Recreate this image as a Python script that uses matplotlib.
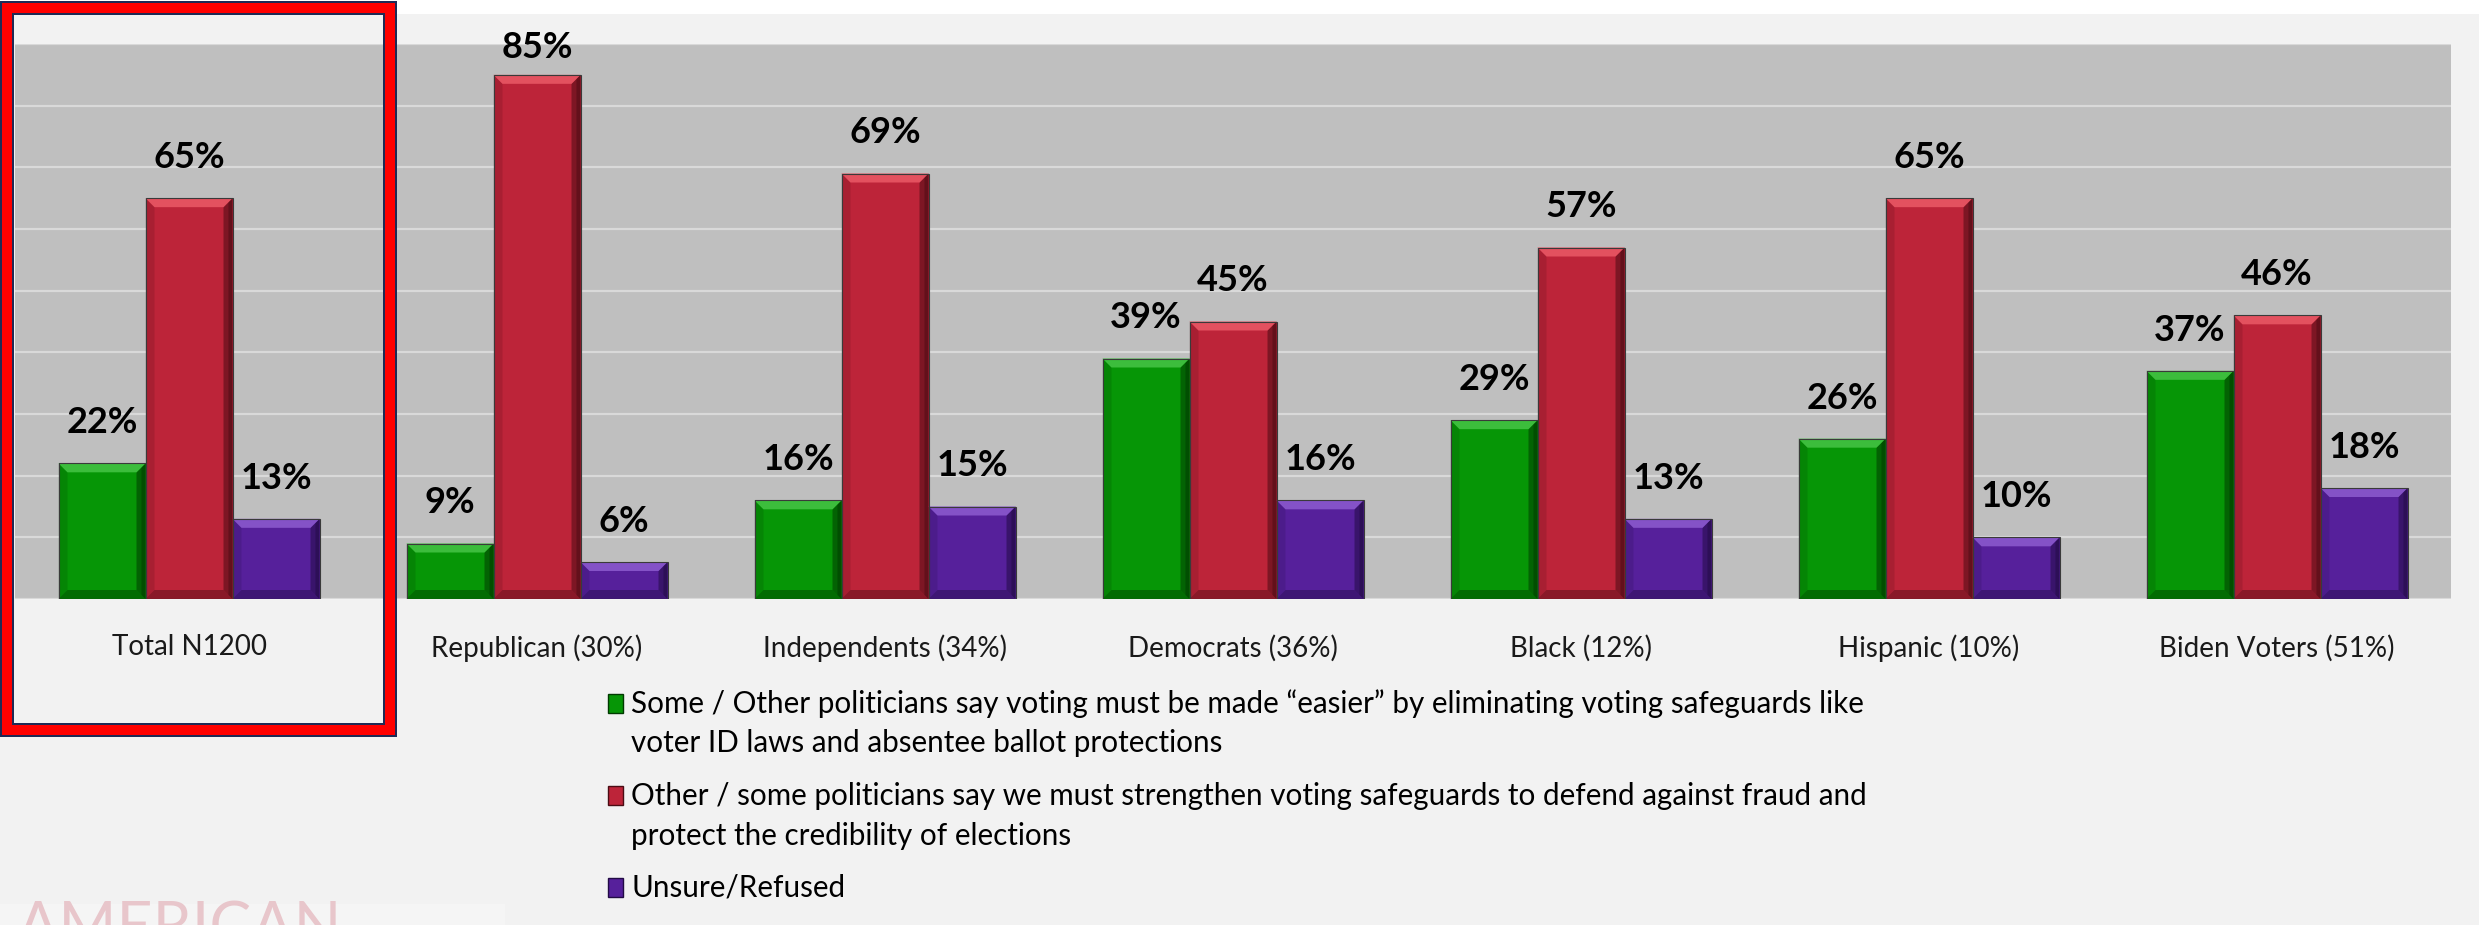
import matplotlib
matplotlib.use("Agg")
import matplotlib.pyplot as plt
from matplotlib.patches import Rectangle, Polygon
import numpy as np

# ---------------- data ----------------
categories = ["Total N1200", "Republican (30%)", "Independents (34%)", "Democrats (36%)",
              "Black (12%)", "Hispanic (10%)", "Biden Voters (51%)"]
easier = [22, 9, 16, 39, 29, 26, 37]
strengthen = [65, 85, 69, 45, 57, 65, 46]
unsure = [13, 6, 15, 16, 13, 10, 18]
legend_lines = [
    ["Some / Other politicians say voting must be made \u201ceasier\u201d by eliminating voting safeguards like",
     "voter ID laws and absentee ballot protections"],
    ["Other / some politicians say we must strengthen voting safeguards to defend against fraud and",
     "protect the credibility of elections"],
    ["Unsure/Refused"],
]

# ---------------- style ----------------
W, H = 2479, 925
DPI = 100
FONT = "Lato"
base_cols = ["#069606", "#bd2439", "#56209b"]
light_cols = ["#3cbd3c", "#e3515f", "#8452c7"]
dark_cols = ["#013a01", "#4a0c14", "#220b45"]

fig = plt.figure(figsize=(W / DPI, H / DPI), dpi=DPI)
fig.patch.set_facecolor("#f2f2f2")

def px(x, y):
    """pixel (from top-left) -> figure fraction"""
    return x / W, 1 - y / H

# white strip at top
fig.patches.append(Rectangle((0, 1 - 14 / H), 1, 14 / H, transform=fig.transFigure,
                             facecolor="white", edgecolor="none", zorder=0))
# watermark box bottom-left
fig.patches.append(Rectangle(px(0, 925), 505 / W, 21 / H, transform=fig.transFigure,
                             facecolor="#f5f5f5", edgecolor="none", zorder=0))

ax_l, ax_r, ax_t, ax_b = 15, 2451, 44, 599
ax = fig.add_axes([ax_l / W, 1 - ax_b / H, (ax_r - ax_l) / W, (ax_b - ax_t) / H])
ax.set_facecolor("#bfbfbf")
ax.set_xlim(-0.5, len(categories) - 0.5)
ax.set_ylim(0, 90)
ax.set_yticks(np.arange(0, 91, 10))
ax.yaxis.grid(True, color="#d9d9d9", linewidth=1.6)
ax.set_axisbelow(True)
for s in ax.spines.values():
    s.set_visible(False)
ax.tick_params(axis="y", left=False, labelleft=False)
ax.tick_params(axis="x", bottom=False, pad=22)
ax.set_xticks(np.arange(len(categories)))
ax.set_xticklabels(categories, fontsize=20, family=FONT, color="#1a1a1a")

x = np.arange(len(categories))
bw = 0.25
dxp = (len(categories)) / (ax_r - ax_l)
dyp = 90 / (ax_b - ax_t)

def bevel(rect, i):
    x0 = rect.get_x(); w = rect.get_width(); h = rect.get_height()
    x1 = x0 + w
    b = 9
    bx = b * dxp
    by = min(b * dyp, h / 2.2)
    top = [(x0, h), (x1, h), (x1 - bx, h - by), (x0 + bx, h - by)]
    bottom = [(x0, 0), (x1, 0), (x1 - bx, by), (x0 + bx, by)]
    left = [(x0, 0), (x0, h), (x0 + bx, h - by), (x0 + bx, by)]
    right = [(x1, 0), (x1, h), (x1 - bx, h - by), (x1 - bx, by)]
    ax.add_patch(Polygon(left, closed=True, facecolor=dark_cols[i], alpha=0.18, edgecolor="none", zorder=3))
    ax.add_patch(Polygon(right, closed=True, facecolor=dark_cols[i], alpha=0.55, edgecolor="none", zorder=3))
    bx2 = bx * 0.45
    right2 = [(x1, 0), (x1, h), (x1 - bx2, h - by * 0.45), (x1 - bx2, by * 0.45)]
    ax.add_patch(Polygon(right2, closed=True, facecolor=dark_cols[i], alpha=0.5, edgecolor="none", zorder=3))
    ax.add_patch(Polygon(bottom, closed=True, facecolor=dark_cols[i], alpha=0.45, edgecolor="none", zorder=3))
    ax.add_patch(Polygon(top, closed=True, facecolor=light_cols[i], edgecolor="none", zorder=3))
    ax.add_patch(Rectangle((x0, 0), w, h, facecolor="none", edgecolor="#3a3a3a", linewidth=0.8, zorder=4))

label_gap = 3.9      # data units between bar top and label bottom
label_ceiling = 86.8  # labels are kept from rising above this level

for i, vals in enumerate([easier, strengthen, unsure]):
    bars = ax.bar(x + (i - 1) * bw, vals, width=bw, color=base_cols[i], edgecolor="none", zorder=2)
    for r, v in zip(bars, vals):
        bevel(r, i)
        ax.text(r.get_x() + r.get_width() / 2, min(v + label_gap, label_ceiling), f"{v}%",
                ha="center", va="bottom", fontsize=26, fontweight="bold", family=FONT,
                color="black", zorder=5, clip_on=False)

# ---------------- legend ----------------
leg_base = [[713, 752], [805, 845], [897]]
for i, lines in enumerate(legend_lines):
    yb = leg_base[i][0]
    fig.patches.append(Rectangle(px(608, yb), 15 / W, 19 / H, transform=fig.transFigure,
                                 facecolor=base_cols[i], edgecolor=dark_cols[i], linewidth=1.0, zorder=3))
    for ln, yy in zip(lines, leg_base[i]):
        fx, fy = px(631, yy)
        fig.text(fx, fy, ln, fontsize=21.3, family=FONT, color="black", ha="left", va="baseline")

# ---------------- highlight box ----------------
bx0, by0, bx1, by1 = 7, 7.5, 390, 730
fig.patches.append(Rectangle(px(bx0, by1), (bx1 - bx0) / W, (by1 - by0) / H, transform=fig.transFigure,
                             facecolor="none", edgecolor="#1f2a55", linewidth=14 * 0.72, zorder=10))
fig.patches.append(Rectangle(px(bx0, by1), (bx1 - bx0) / W, (by1 - by0) / H, transform=fig.transFigure,
                             facecolor="none", edgecolor="#ff0000", linewidth=10 * 0.72, zorder=11))

# ---------------- watermark ----------------
fx, fy = px(17, 948)
fig.text(fx, fy, "AMERICAN", fontsize=45, family="Lato", fontweight="normal",
         color="#e8c6cb", ha="left", va="baseline")

fig.savefig("out.png", dpi=DPI, facecolor=fig.get_facecolor())
